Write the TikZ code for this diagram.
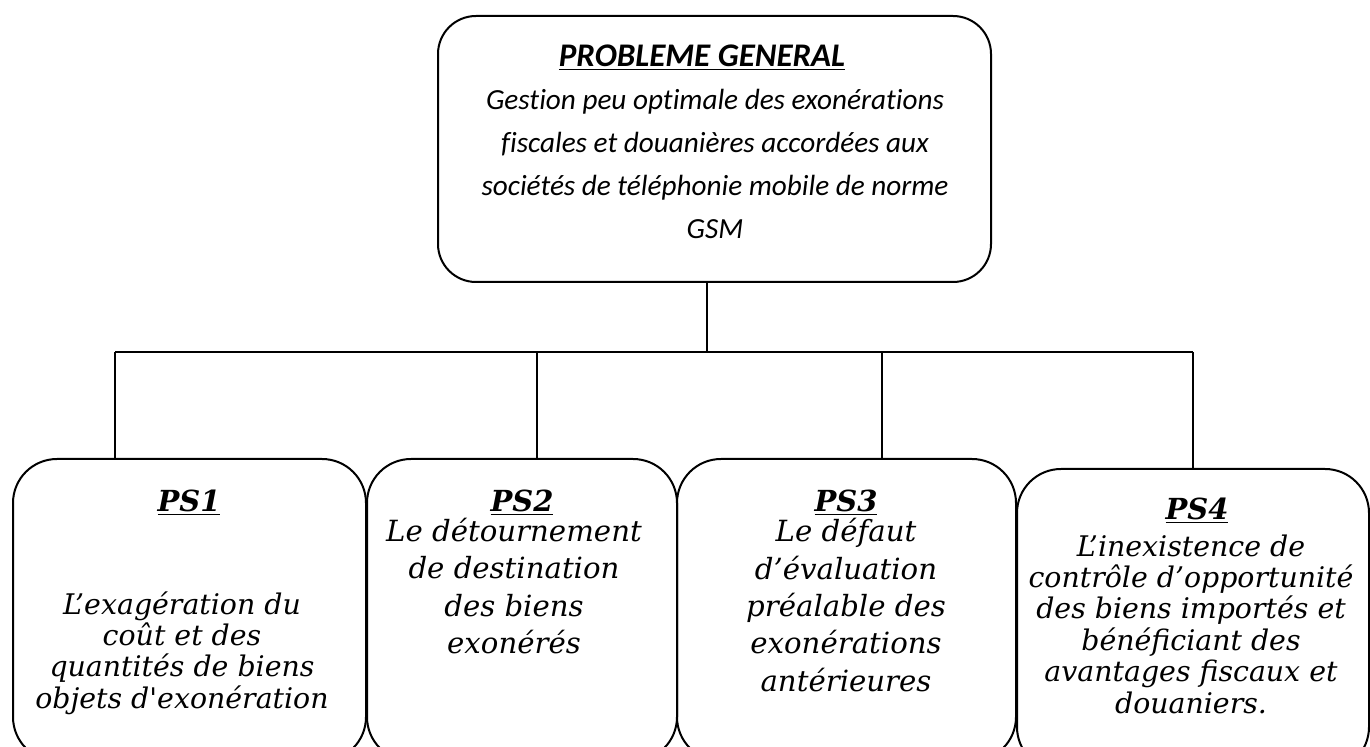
\documentclass[tikz,border=0pt]{standalone}
\usepackage{fontspec}
\setmainfont[Ligatures=NoCommon]{Carlito}
\newfontfamily\psfont[Ligatures=TeXOff]{DejaVu Serif}
\usetikzlibrary{positioning}

\tikzset{
  genbox/.style={draw, line width=1pt, rounded corners=19pt, anchor=north west,
    minimum width=276.5pt, minimum height=133pt, inner sep=0pt},
  psbox/.style={draw, line width=1pt, rounded corners=22pt, anchor=north west,
    minimum height=151pt, inner sep=0pt},
  gentitle/.style={inner sep=0pt, font=\bfseries\itshape\fontsize{16.5}{18}\selectfont},
  gentext/.style={inner sep=0pt, align=center, font=\itshape\fontsize{14.6}{21.5}\selectfont},
  pstitle/.style={inner sep=0pt, font=\psfont\bfseries\itshape\fontsize{14.5}{17}\selectfont},
  pstext/.style={inner sep=0pt, align=center, font=\psfont\itshape\fontsize{14.2}{15.7}\selectfont},
  pstextbig/.style={pstext, font=\psfont\itshape\fontsize{14.6}{18.7}\selectfont},
  link/.style={line width=0.7pt},
}

\begin{document}
\begin{tikzpicture}[x=0.5pt, y=-0.5pt]

\useasboundingbox (0,0) rectangle (1370,747);
\clip (0,0) rectangle (1370,747);

% general problem
\node[genbox] (general) at (437,15) {};
\node[gentitle] (gentitle) at (702,58) {\underline{PROBLEME GENERAL}};
\node[gentext] (gendesc) at (715,164) {Gestion peu optimale des exonérations\\
  fiscales et douanières accordées aux\\
  sociétés de téléphonie mobile de norme\\
  GSM};

% sub-problems
\node[psbox, minimum width=176.5pt] (ps1) at (12,458) {};
\node[psbox, minimum width=155pt] (ps2) at (366,458) {};
\node[psbox, minimum width=169.5pt] (ps3) at (676,458) {};
\node[psbox, minimum width=176pt] (ps4) at (1016,468) {};

\node[pstitle] (ps1title) at (189,503) {\underline{PS1}};
\node[pstext] (ps1text) at (182,653) {L’exagération du\\coût et des\\
  quantités de biens\\objets d'exonération};

\node[pstitle] (ps2title) at (522,503) {\underline{PS2}};
\node[pstextbig] (ps2text) at (514,586) {Le détournement\\de destination\\
  des biens\\exonérés};

\node[pstitle] (ps3title) at (846,503) {\underline{PS3}};
\node[pstextbig] (ps3text) at (846,605) {Le défaut\\d’évaluation\\
  préalable des\\exonérations\\antérieures};

\node[pstitle] (ps4title) at (1197,511) {\underline{PS4}};
\node[pstext] (ps4text) at (1191,624) {L’inexistence de\\contrôle d’opportunité\\
  des biens importés et\\bénéficiant des\\avantages fiscaux et\\douaniers.};

% connectors
\coordinate (bus) at (707,352);
\coordinate (j1) at (115,352);
\coordinate (j2) at (537,352);
\coordinate (j3) at (882,352);
\coordinate (j4) at (1193,352);

\draw[link] (general.south -| bus) -- (bus);
\draw[link] (j1) -- (j4);
\foreach \i in {1,...,4}
  \draw[link] (j\i) -- (j\i |- ps\i.north);

\end{tikzpicture}
\end{document}
